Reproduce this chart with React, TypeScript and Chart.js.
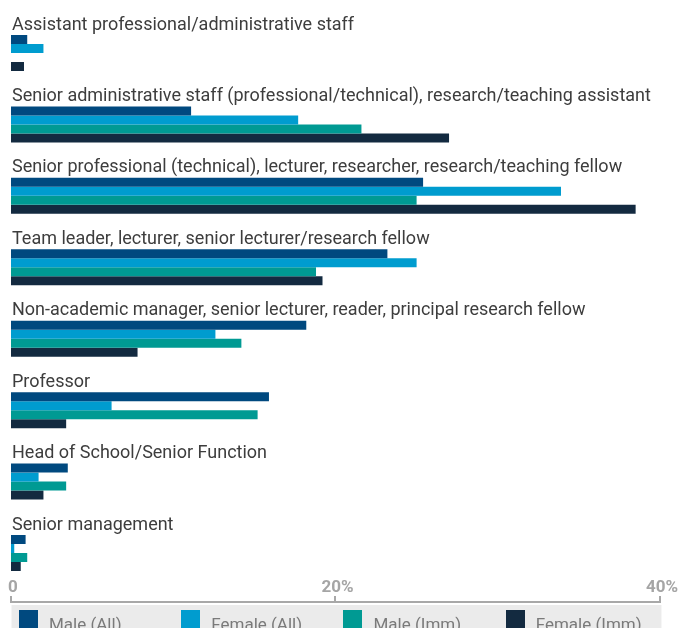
import React, { useEffect, useRef } from "react";
import { Chart, registerables } from "chart.js";

Chart.register(...registerables);

const categories = [
  "Assistant professional/administrative staff",
  "Senior administrative staff (professional/technical), research/teaching assistant",
  "Senior professional (technical), lecturer, researcher, research/teaching fellow",
  "Team leader, lecturer, senior lecturer/research fellow",
  "Non-academic manager, senior lecturer, reader, principal research fellow",
  "Professor",
  "Head of School/Senior Function",
  "Senior management",
];

const seriesNames = ["Male (All)", "Female (All)", "Male (Imm)", "Female (Imm)"];
const maleAll = [1.0, 11.1, 25.4, 23.2, 18.2, 15.9, 3.5, 0.9];
const femaleAll = [2.0, 17.7, 33.9, 25.0, 12.6, 6.2, 1.7, 0.2];
const maleImm = [0, 21.6, 25.0, 18.8, 14.2, 15.2, 3.4, 1.0];
const femaleImm = [0.8, 27.0, 38.5, 19.2, 7.8, 3.4, 2.0, 0.6];
const seriesColors = ["#00497f", "#009ccf", "#009a93", "#132a40"];
const xTicks = [0, 20, 40];

const FONT = "Roboto, 'DejaVu Sans', sans-serif";

export default function App() {
  const ref = useRef<HTMLCanvasElement | null>(null);

  useEffect(() => {
    const canvas = ref.current;
    if (!canvas) return;
    const series = [maleAll, femaleAll, maleImm, femaleImm];

    const decor = {
      id: "decor",
      beforeDraw(chart: any) {
        const { ctx, chartArea } = chart;
        ctx.save();
        ctx.fillStyle = "#ebebeb";
        ctx.fillRect(chartArea.left + 0.5, chartArea.bottom + 3, chartArea.width + 1, 40);
        ctx.restore();
      },
      afterDraw(chart: any) {
        const { ctx, chartArea } = chart;
        const xs = chart.scales.x;
        ctx.save();
        ctx.strokeStyle = "#a8a8a8";
        ctx.lineWidth = 2;
        xTicks.forEach((v) => {
          const px = Math.round(xs.getPixelForValue(v));
          ctx.beginPath();
          ctx.moveTo(px, chartArea.bottom - 6);
          ctx.lineTo(px, chartArea.bottom + 1);
          ctx.stroke();
        });
        const colW = chartArea.width / 4;
        ctx.font = "17px " + FONT;
        ctx.textBaseline = "alphabetic";
        ctx.textAlign = "left";
        chart.data.datasets.forEach((ds: any, i: number) => {
          const x0 = chartArea.left + i * colW;
          ctx.fillStyle = ds.backgroundColor;
          ctx.fillRect(Math.round(x0 + 8), chartArea.bottom + 8, 19, 19);
          ctx.fillStyle = "#7a7a7a";
          ctx.fillText(ds.label, x0 + 38, chartArea.bottom + 28);
        });
        ctx.restore();
      },
    };

    const chart = new Chart(canvas, {
      type: "bar",
      data: {
        datasets: series.map((arr, i) => ({
          label: seriesNames[i],
          data: arr.map((v, idx) => ({ x: v, y: idx })),
          backgroundColor: seriesColors[i],
          borderWidth: 0,
          barPercentage: 1,
          categoryPercentage: 0.504,
        })),
      },
      options: {
        indexAxis: "y",
        animation: false,
        responsive: false,
        events: [],
        layout: { padding: { left: 11, right: 18, top: 0, bottom: 18 } },
        plugins: { legend: { display: false }, tooltip: { enabled: false } },
        scales: {
          x: {
            type: "linear",
            position: "bottom",
            min: 0,
            max: 40,
            grid: { display: false, drawTicks: false },
            border: { display: true, color: "#a8a8a8", width: 2 },
            ticks: {
              mirror: true,
              padding: 4,
              stepSize: 20,
              labelOffset: 2,
              color: "#a5a5a5",
              font: { family: FONT, size: 17, weight: "bold" },
              callback: (v: any) => (v === 0 ? "0" : v + "%"),
            },
          },
          y: {
            type: "linear",
            reverse: true,
            offset: false,
            min: -0.742,
            max: 7.686,
            grid: { display: false, drawTicks: false, offset: false },
            border: { display: false },
            afterFit: (s: any) => {
              s.width = 0;
              s.paddingTop = 0;
              s.paddingBottom = 0;
            },
            ticks: {
              mirror: true,
              padding: 1,
              stepSize: 1,
              includeBounds: false,
              autoSkip: false,
              labelOffset: -28,
              color: "#3d3d3d",
              font: { family: FONT, size: 18 },
              callback: (v: any) => (Number.isInteger(v) ? categories[v] ?? "" : ""),
            },
          },
        },
      },
      plugins: [decor],
    } as any);

    return () => chart.destroy();
  }, []);

  return (
    <div style={{ position: "absolute", left: 0, top: 0, width: 680, height: 628, overflow: "hidden", background: "#fff" }}>
      <canvas ref={ref} width={680} height={628} style={{ display: "block" }} />
    </div>
  );
}
